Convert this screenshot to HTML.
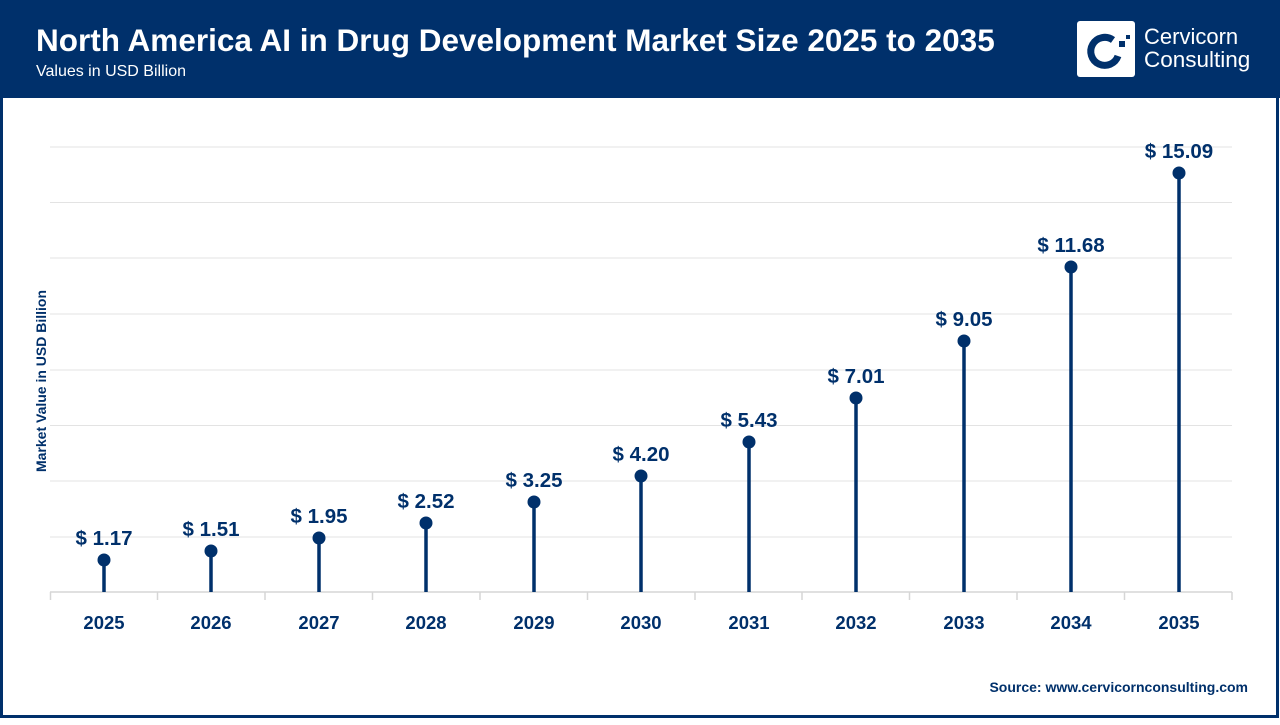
<!DOCTYPE html>
<html><head><meta charset="utf-8"><style>
body{margin:0;width:1280px;height:720px;overflow:hidden;background:#fff;font-family:"Liberation Sans",sans-serif}
</style></head><body>
<svg width="1280" height="720" xmlns="http://www.w3.org/2000/svg" font-family="Liberation Sans, sans-serif">
<rect x="0" y="0" width="1280" height="720" fill="#fff"/>
<rect x="1.5" y="60" width="1276" height="656.5" fill="none" stroke="#00306b" stroke-width="3"/>
<rect x="0" y="0" width="1280" height="98" fill="#00306b"/>
<text x="36" y="51" fill="#fff" font-size="31.5" font-weight="bold">North America AI in Drug Development Market Size 2025 to 2035</text>
<text x="36" y="76" fill="#fff" font-size="16">Values in USD Billion</text>
<rect x="1077" y="21" width="58" height="56" rx="3" fill="#fff"/>
<path d="M1113 40 A14 14 0 1 0 1118 56" fill="none" stroke="#00306b" stroke-width="7"/>
<rect x="1119" y="41" width="6" height="6" fill="#00306b"/>
<rect x="1126" y="35" width="4" height="4" fill="#00306b"/>
<text x="1144" y="44" fill="#fff" font-size="22">Cervicorn</text>
<text x="1144" y="67" fill="#fff" font-size="22.5">Consulting</text>
<g stroke="#e3e3e3" stroke-width="1">
<line x1="50" x2="1232" y1="147" y2="147"/><line x1="50" x2="1232" y1="202.5" y2="202.5"/>
<line x1="50" x2="1232" y1="258" y2="258"/><line x1="50" x2="1232" y1="314" y2="314"/>
<line x1="50" x2="1232" y1="370" y2="370"/><line x1="50" x2="1232" y1="425.5" y2="425.5"/>
<line x1="50" x2="1232" y1="481" y2="481"/><line x1="50" x2="1232" y1="537" y2="537"/>
</g>
<g stroke="#d6d6d6" stroke-width="1.5">
<line x1="50" x2="1232" y1="592" y2="592"/>
<line x1="50.5" x2="50.5" y1="592" y2="600"/><line x1="157.5" x2="157.5" y1="592" y2="600"/>
<line x1="265" x2="265" y1="592" y2="600"/><line x1="372.5" x2="372.5" y1="592" y2="600"/>
<line x1="480" x2="480" y1="592" y2="600"/><line x1="587.5" x2="587.5" y1="592" y2="600"/>
<line x1="695" x2="695" y1="592" y2="600"/><line x1="802" x2="802" y1="592" y2="600"/>
<line x1="909.5" x2="909.5" y1="592" y2="600"/><line x1="1017" x2="1017" y1="592" y2="600"/>
<line x1="1124.5" x2="1124.5" y1="592" y2="600"/><line x1="1232" x2="1232" y1="592" y2="600"/>
</g>
<text transform="translate(46,381) rotate(-90)" text-anchor="middle" fill="#00306b" font-size="14" font-weight="bold">Market Value in USD Billion</text>
<g fill="#00306b" stroke="#00306b">
<line x1="104" x2="104" y1="592" y2="560" stroke-width="3.5"/><circle cx="104" cy="560" r="6"/>
<line x1="211" x2="211" y1="592" y2="551" stroke-width="3.5"/><circle cx="211" cy="551" r="6"/>
<line x1="319" x2="319" y1="592" y2="538" stroke-width="3.5"/><circle cx="319" cy="538" r="6"/>
<line x1="426" x2="426" y1="592" y2="523" stroke-width="3.5"/><circle cx="426" cy="523" r="6"/>
<line x1="534" x2="534" y1="592" y2="502" stroke-width="3.5"/><circle cx="534" cy="502" r="6"/>
<line x1="641" x2="641" y1="592" y2="476" stroke-width="3.5"/><circle cx="641" cy="476" r="6"/>
<line x1="749" x2="749" y1="592" y2="442" stroke-width="3.5"/><circle cx="749" cy="442" r="6"/>
<line x1="856" x2="856" y1="592" y2="398" stroke-width="3.5"/><circle cx="856" cy="398" r="6"/>
<line x1="964" x2="964" y1="592" y2="341" stroke-width="3.5"/><circle cx="964" cy="341" r="6"/>
<line x1="1071" x2="1071" y1="592" y2="267" stroke-width="3.5"/><circle cx="1071" cy="267" r="6"/>
<line x1="1179" x2="1179" y1="592" y2="173" stroke-width="3.5"/><circle cx="1179" cy="173" r="6"/>
</g>
<g fill="#00306b" font-size="20.5" font-weight="bold" text-anchor="middle">
<text x="104" y="545">$ 1.17</text><text x="211" y="536">$ 1.51</text>
<text x="319" y="523">$ 1.95</text><text x="426" y="508">$ 2.52</text>
<text x="534" y="487">$ 3.25</text><text x="641" y="461">$ 4.20</text>
<text x="749" y="427">$ 5.43</text><text x="856" y="383">$ 7.01</text>
<text x="964" y="326">$ 9.05</text><text x="1071" y="252">$ 11.68</text>
<text x="1179" y="158">$ 15.09</text>
</g>
<g fill="#00306b" font-size="18.5" font-weight="bold" text-anchor="middle">
<text x="104" y="629">2025</text><text x="211" y="629">2026</text><text x="319" y="629">2027</text>
<text x="426" y="629">2028</text><text x="534" y="629">2029</text><text x="641" y="629">2030</text>
<text x="749" y="629">2031</text><text x="856" y="629">2032</text><text x="964" y="629">2033</text>
<text x="1071" y="629">2034</text><text x="1179" y="629">2035</text>
</g>
<text x="1248" y="692" text-anchor="end" fill="#00306b" font-size="14" font-weight="bold">Source: www.cervicornconsulting.com</text>
</svg>
</body></html>
